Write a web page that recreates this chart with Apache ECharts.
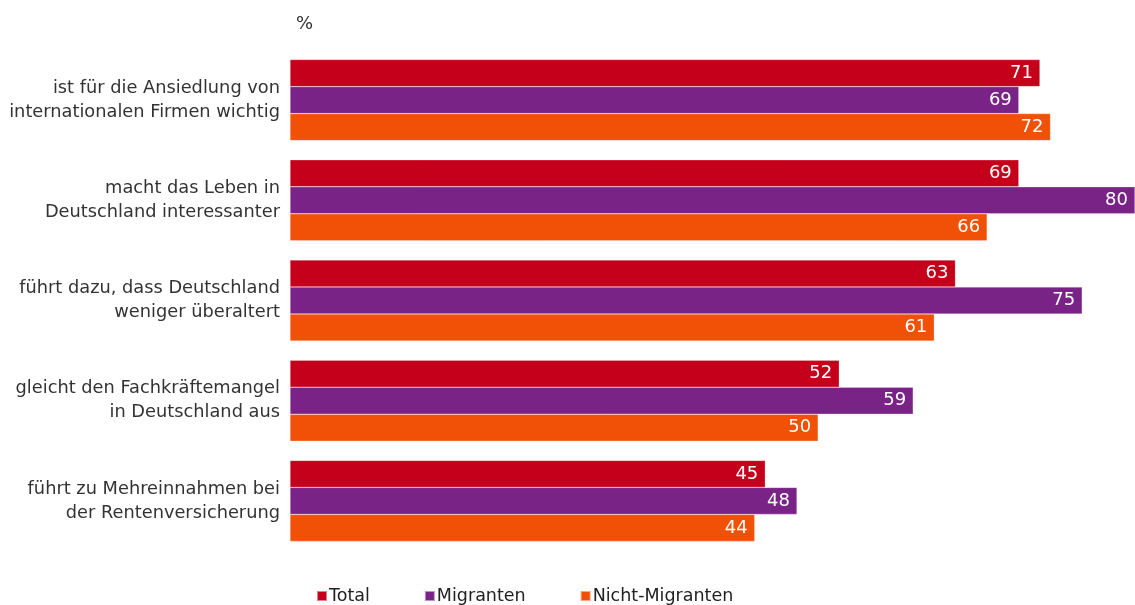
<!DOCTYPE html>
<html><head><meta charset="utf-8">
<script src="https://cdn.jsdelivr.net/npm/echarts@6/dist/echarts.min.js"></script>
<style>html,body{margin:0;padding:0;background:#fff}#c{width:1135px;height:605px}</style>
</head><body><div id="c"></div>
<script>
const categories = [
  "ist für die Ansiedlung von\ninternationalen Firmen wichtig",
  "macht das Leben in\nDeutschland interessanter",
  "führt dazu, dass Deutschland\nweniger überaltert",
  "gleicht den Fachkräftemangel\nin Deutschland aus",
  "führt zu Mehreinnahmen bei\nder Rentenversicherung"
];
const seriesNames = ["Total", "Migranten", "Nicht-Migranten"];
const totalValues = [71, 69, 63, 52, 45];
const migrantenValues = [69, 80, 75, 59, 48];
const nichtMigrantenValues = [72, 66, 61, 50, 44];
const colors = ["#C5001A", "#7A2387", "#F05106"];
const FONT = "DejaVu Sans";

const chart = echarts.init(document.getElementById('c'));
const mk = (name, data, color) => ({
  name, type: 'bar', data, barWidth: 27, barGap: '0%',
  itemStyle: { color, borderColor: 'rgba(255,255,255,0.5)', borderWidth: 0.5 },
  label: { show: true, position: 'insideRight', color: '#fff', fontSize: 18, fontFamily: FONT, distance: 7 }
});
chart.setOption({
  animation: false,
  textStyle: { fontFamily: FONT },
  grid: { left: 290, right: 0, top: 50, bottom: 54, containLabel: false },
  title: { text: '%', left: 291, top: 10, textStyle: { fontSize: 18, fontWeight: 'normal', color: '#333', fontFamily: FONT } },
  xAxis: { type: 'value', min: 0, max: 80, show: false },
  yAxis: {
    type: 'category', data: categories, inverse: true,
    axisLine: { show: false }, axisTick: { show: false },
    axisLabel: { color: '#333', fontSize: 17.8, fontFamily: FONT, lineHeight: 24, margin: 10, align: 'right' }
  },
  legend: {
    left: 316, top: 587, padding: 0, itemWidth: 10, itemHeight: 10, itemGap: 54, icon: 'rect',
    textStyle: { fontSize: 17.5, color: '#222', fontFamily: FONT, padding: [0, 0, 0, -3] },
    data: seriesNames
  },
  series: [
    mk(seriesNames[0], totalValues, colors[0]),
    mk(seriesNames[1], migrantenValues, colors[1]),
    mk(seriesNames[2], nichtMigrantenValues, colors[2])
  ]
});
</script></body></html>
